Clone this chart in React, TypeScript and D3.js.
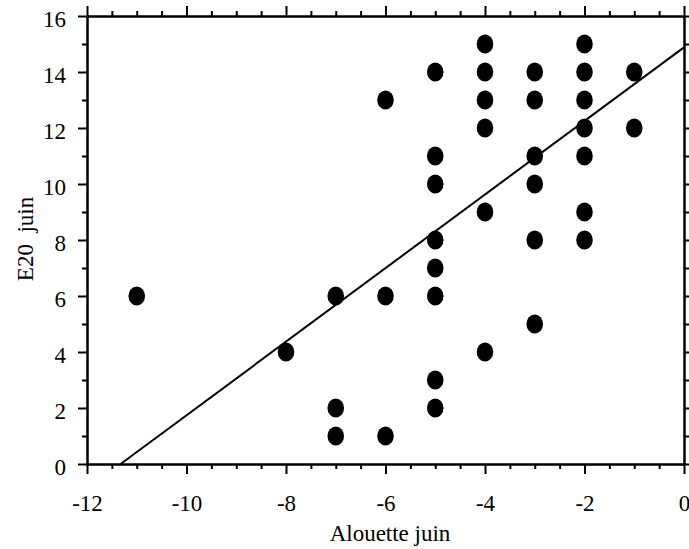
import React, { useEffect, useRef } from "react";
import * as d3 from "d3";

const xValues = [
  -11, -8, -7, -7, -7, -6, -6, -6,
  -5, -5, -5, -5, -5, -5, -5, -5,
  -4, -4, -4, -4, -4, -4,
  -3, -3, -3, -3, -3, -3,
  -2, -2, -2, -2, -2, -2, -2,
  -1, -1,
];
const yValues = [
  6, 4, 6, 2, 1, 13, 6, 1,
  14, 11, 10, 8, 7, 6, 3, 2,
  15, 14, 13, 12, 9, 4,
  14, 13, 11, 10, 8, 5,
  15, 14, 13, 12, 11, 9, 8,
  14, 12,
];
const regIntercept = 14.88;
const regSlope = 1.314;
const xMajorTicks = [-12, -10, -8, -6, -4, -2, 0];
const yMajorTicks = [0, 2, 4, 6, 8, 10, 12, 14, 16];
const xTitle = "Alouette juin";
const yTitle = "E20  juin";

const W = 689;
const H = 549;
const FONT = "'Liberation Serif', 'Times New Roman', serif";

export default function App() {
  const ref = useRef<SVGSVGElement>(null);

  useEffect(() => {
    const svg = d3.select(ref.current);
    svg.selectAll("*").remove();

    const x = d3.scaleLinear().domain([-12, 0]).range([87, 684]);
    const y = d3.scaleLinear().domain([0, 16]).range([464, 16]);

    const xMinor = d3.range(-12, 0.001, 0.5).filter((v) => !xMajorTicks.includes(v));
    const yMinor = d3.range(0, 16.001, 1).filter((v) => !yMajorTicks.includes(v));

    const styleAxis = (g: any, fontSize = 23) => {
      g.selectAll("path").attr("stroke", "#000").attr("stroke-width", 2.5);
      g.selectAll("line").attr("stroke", "#000").attr("stroke-width", 2);
      g.selectAll("text")
        .attr("font-family", FONT)
        .attr("font-size", fontSize)
        .attr("fill", "#000");
      g.attr("font-family", FONT);
    };
    const minorStyle = (g: any) => {
      g.select("path").remove();
      g.selectAll("line").attr("stroke", "#000").attr("stroke-width", 2);
    };

    // bottom axis
    const gB = svg.append("g").attr("transform", `translate(0,${y(0)})`);
    gB.call(
      d3.axisBottom(x).tickValues(xMajorTicks).tickSize(10).tickPadding(21).tickSizeOuter(0)
        .tickFormat((d: any) => (d < 0 ? "-" + Math.abs(d) : String(d)))
    );
    styleAxis(gB);
    gB.append("g").call(
      d3.axisBottom(x).tickValues(xMinor).tickSize(5).tickFormat(() => "").tickSizeOuter(0)
    ).call(minorStyle);

    // top axis
    const gT = svg.append("g").attr("transform", `translate(0,${y(16)})`);
    gT.call(d3.axisTop(x).tickValues(xMajorTicks).tickSize(10).tickFormat(() => "").tickSizeOuter(0));
    styleAxis(gT);
    gT.append("g").call(
      d3.axisTop(x).tickValues(xMinor).tickSize(5).tickFormat(() => "").tickSizeOuter(0)
    ).call(minorStyle);

    // left axis
    const gL = svg.append("g").attr("transform", `translate(${x(-12)},0)`);
    gL.call(d3.axisLeft(y).tickValues(yMajorTicks).tickSize(9).tickPadding(12).tickSizeOuter(0));
    styleAxis(gL);
    gL.selectAll("text").attr("dy", "0.45em");
    gL.append("g").call(
      d3.axisLeft(y).tickValues(yMinor).tickSize(5).tickFormat(() => "").tickSizeOuter(0)
    ).call(minorStyle);

    // right axis
    const gR = svg.append("g").attr("transform", `translate(${x(0)},0)`);
    gR.call(
      d3.axisRight(y).tickValues(d3.range(0, 16.001, 1)).tickSize(5).tickFormat(() => "").tickSizeOuter(0)
    );
    styleAxis(gR);

    // regression line
    const xStart = -regIntercept / regSlope;
    const lineData: [number, number][] = [
      [xStart, 0],
      [0, regIntercept],
    ];
    svg.append("path")
      .attr("d", d3.line<[number, number]>().x((d) => x(d[0])).y((d) => y(d[1]))(lineData) as string)
      .attr("fill", "none")
      .attr("stroke", "#000")
      .attr("stroke-width", 2);

    // points
    svg.append("g")
      .selectAll("ellipse")
      .data(xValues.map((v, i) => [v, yValues[i]]))
      .join("ellipse")
      .attr("cx", (d) => x(d[0]))
      .attr("cy", (d) => y(d[1]))
      .attr("rx", 8.3)
      .attr("ry", 9.5)
      .attr("fill", "#000");

    // titles
    svg.append("text")
      .attr("x", 390)
      .attr("y", 541)
      .attr("text-anchor", "middle")
      .attr("font-family", FONT)
      .attr("font-size", 23)
      .text(xTitle);

    svg.append("text")
      .attr("transform", `translate(33,239) rotate(-90)`)
      .attr("text-anchor", "middle")
      .attr("font-family", FONT)
      .attr("font-size", 23)
      .style("white-space", "pre")
      .text(yTitle);
  }, []);

  return (
    <svg
      ref={ref}
      width={W}
      height={H}
      style={{ position: "absolute", left: 0, top: 0, background: "#fff" }}
    />
  );
}
